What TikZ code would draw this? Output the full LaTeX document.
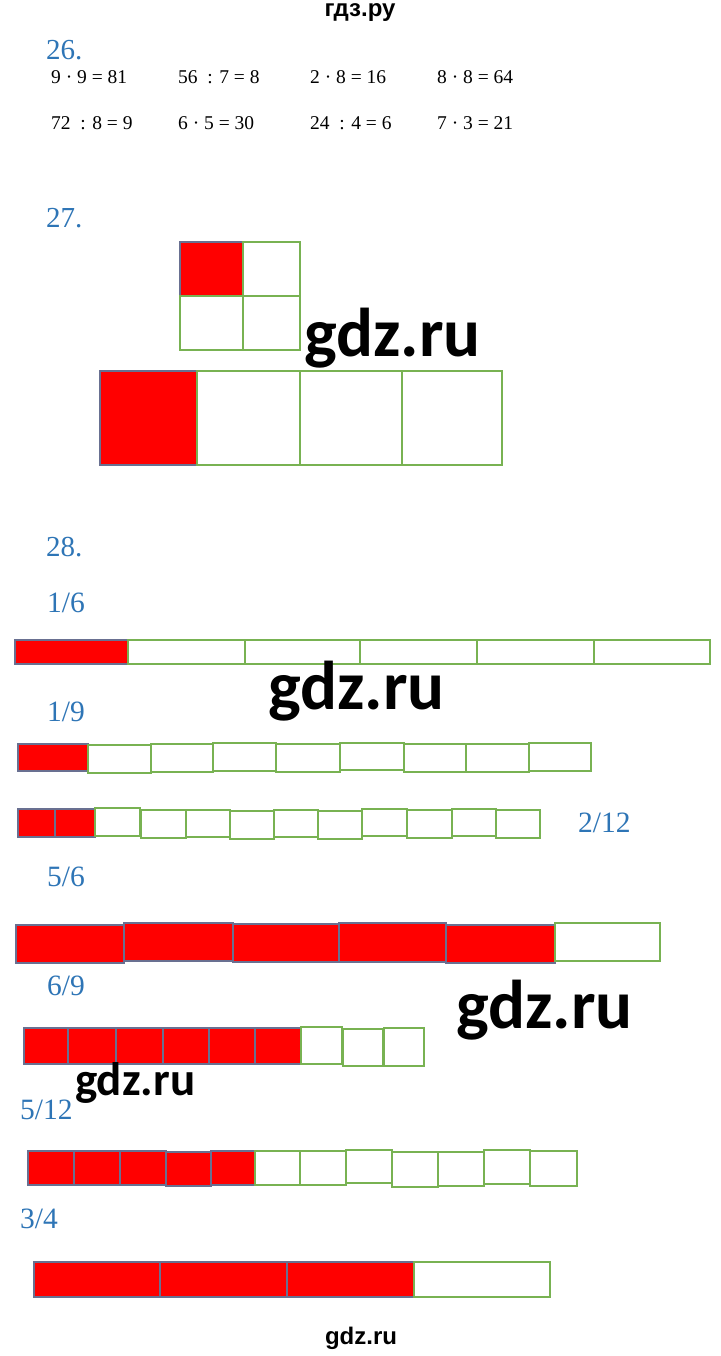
\documentclass[tikz,border=0pt]{standalone}
\usepackage{fontspec}
\setmainfont{Liberation Serif}
\newfontfamily\arialf{Liberation Sans}
\newfontfamily\wmf{Carlito}
\definecolor{numblue}{RGB}{46,117,182}
\definecolor{cellgreen}{RGB}{120,178,82}
\definecolor{cellgrey}{RGB}{105,112,145}
\begin{document}
\begin{tikzpicture}[x=1pt,y=-1pt,
  lbl/.style={text=numblue, font=\fontsize{29}{32}\selectfont, inner sep=0, anchor=west},
  frac/.style={text=numblue, font=\fontsize{29.5}{32}\selectfont, inner sep=0, anchor=west},
  eq/.style={font=\fontsize{19.5}{22}\selectfont, inner sep=0, anchor=west},
  wm/.style={font=\wmf\bfseries\fontsize{69}{76}\selectfont, inner sep=0, anchor=west},
  wmsmall/.style={font=\wmf\bfseries\fontsize{47}{52}\selectfont, inner sep=0, anchor=west},
  hdr/.style={font=\arialf\bfseries\fontsize{24}{28}\selectfont, inner sep=0},
  redcell/.style={fill=red, draw=cellgrey, line width=1.2pt},
  whitecell/.style={fill=white, draw=cellgreen, line width=1.5pt}]
\useasboundingbox[fill=white] (0,0) rectangle (720,1356);

% header / footer
\node[hdr] (header) at (360,13) {гдз.ру};
\node[hdr] (footer) at (361,1338) {gdz.ru};

% 26
\node[lbl] (n26) at (46,50) {26.};
\node[eq] (e11) at (51,77) {9 · 9 = 81};
\node[eq] (e12) at (178,77) {56\enspace: 7 = 8};
\node[eq] (e13) at (310,77) {2 · 8 = 16};
\node[eq] (e14) at (437,77) {8 · 8 = 64};
\node[eq] (e21) at (51,123) {72\enspace: 8 = 9};
\node[eq] (e22) at (178,123) {6 · 5 = 30};
\node[eq] (e23) at (310,123) {24\enspace: 4 = 6};
\node[eq] (e24) at (437,123) {7 · 3 = 21};

% 27
\node[lbl] (n27) at (46,218) {27.};
\filldraw[redcell] (180,242) rectangle (243,296);
\draw[whitecell] (243,242) rectangle (300,296);
\draw[whitecell] (180,296) rectangle (243,350);
\draw[whitecell] (243,296) rectangle (300,350);
\node[wm] (wm1) at (304,338) {gdz.ru};
\filldraw[redcell] (100,371) rectangle (197,465);
\draw[whitecell] (197,371) rectangle (300,465);
\draw[whitecell] (300,371) rectangle (402,465);
\draw[whitecell] (402,371) rectangle (502,465);

% 28
\node[lbl] (n28) at (46,547) {28.};

% 1/6
\node[frac] (f16) at (47,603) {1/6};
\filldraw[redcell] (15,640) rectangle (128,664);
\draw[whitecell] (128,640) rectangle (245,664);
\draw[whitecell] (245,640) rectangle (360,664);
\draw[whitecell] (360,640) rectangle (477,664);
\draw[whitecell] (477,640) rectangle (594,664);
\draw[whitecell] (594,640) rectangle (710,664);
\node[wm] (wm2) at (268,691) {gdz.ru};

% 1/9
\node[frac] (f19) at (47,712) {1/9};
\filldraw[redcell] (18,744) rectangle (88,771);
\draw[whitecell] (88,745) rectangle (151,773);
\draw[whitecell] (151,744) rectangle (213,772);
\draw[whitecell] (213,743) rectangle (276,771);
\draw[whitecell] (276,744) rectangle (340,772);
\draw[whitecell] (340,743) rectangle (404,770);
\draw[whitecell] (404,744) rectangle (466,772);
\draw[whitecell] (466,744) rectangle (529,772);
\draw[whitecell] (529,743) rectangle (591,771);

% 2/12
\filldraw[redcell] (18,809) rectangle (55,837);
\filldraw[redcell] (55,809) rectangle (95,837);
\draw[whitecell] (95,808) rectangle (140,836);
\draw[whitecell] (141,810) rectangle (186,838);
\draw[whitecell] (186,810) rectangle (230,837);
\draw[whitecell] (230,811) rectangle (274,839);
\draw[whitecell] (274,810) rectangle (318,837);
\draw[whitecell] (318,811) rectangle (362,839);
\draw[whitecell] (362,809) rectangle (407,836);
\draw[whitecell] (407,810) rectangle (452,838);
\draw[whitecell] (452,809) rectangle (496,836);
\draw[whitecell] (496,810) rectangle (540,838);
\node[frac] (f212) at (578,823) {2/12};

% 5/6
\node[frac] (f56) at (47,877) {5/6};
\filldraw[redcell] (16,925) rectangle (124,963);
\filldraw[redcell] (124,923) rectangle (233,961);
\filldraw[redcell] (233,924) rectangle (339,962);
\filldraw[redcell] (339,923) rectangle (446,962);
\filldraw[redcell] (446,925) rectangle (555,963);
\draw[whitecell] (555,923) rectangle (660,961);

% 6/9
\node[frac] (f69) at (47,986) {6/9};
\node[wm] (wm3) at (456,1010) {gdz.ru};
\filldraw[redcell] (24,1028) rectangle (68,1064);
\filldraw[redcell] (68,1028) rectangle (116,1064);
\filldraw[redcell] (116,1028) rectangle (163,1064);
\filldraw[redcell] (163,1028) rectangle (209,1064);
\filldraw[redcell] (209,1028) rectangle (255,1064);
\filldraw[redcell] (255,1028) rectangle (301,1064);
\draw[whitecell] (301,1027) rectangle (342,1064);
\draw[whitecell] (343,1029) rectangle (383,1066);
\draw[whitecell] (384,1028) rectangle (424,1066);
\node[wmsmall] (wm4) at (75,1083) {gdz.ru};

% 5/12
\node[frac] (f512) at (20,1110) {5/12};
\filldraw[redcell] (28,1151) rectangle (74,1185);
\filldraw[redcell] (74,1151) rectangle (120,1185);
\filldraw[redcell] (120,1151) rectangle (166,1185);
\filldraw[redcell] (166,1152) rectangle (211,1186);
\filldraw[redcell] (211,1151) rectangle (255,1185);
\draw[whitecell] (255,1151) rectangle (300,1185);
\draw[whitecell] (300,1151) rectangle (346,1185);
\draw[whitecell] (346,1150) rectangle (392,1183);
\draw[whitecell] (392,1152) rectangle (438,1187);
\draw[whitecell] (438,1152) rectangle (484,1186);
\draw[whitecell] (484,1150) rectangle (530,1184);
\draw[whitecell] (530,1151) rectangle (577,1186);

% 3/4
\node[frac] (f34) at (20,1219) {3/4};
\filldraw[redcell] (34,1262) rectangle (160,1297);
\filldraw[redcell] (160,1262) rectangle (287,1297);
\filldraw[redcell] (287,1262) rectangle (414,1297);
\draw[whitecell] (414,1262) rectangle (550,1297);
\end{tikzpicture}
\end{document}
